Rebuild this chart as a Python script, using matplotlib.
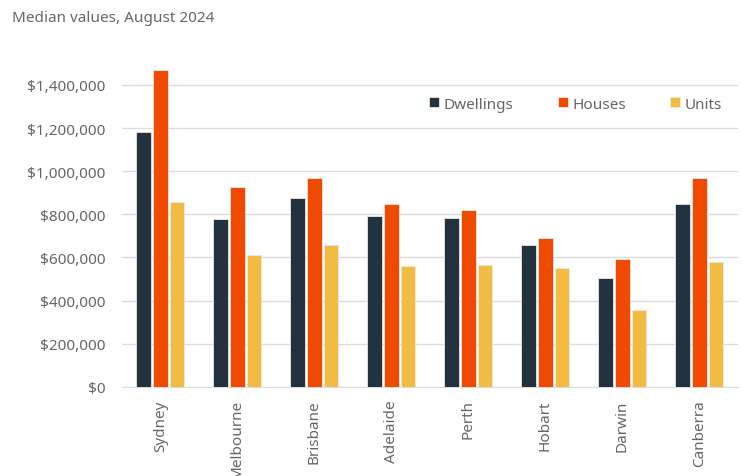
import numpy as np
import matplotlib.pyplot as plt
from matplotlib.ticker import FuncFormatter

plt.rcParams['font.family'] = ['Noto Sans', 'DejaVu Sans']

cities = ["Sydney", "Melbourne", "Brisbane", "Adelaide", "Perth", "Hobart", "Darwin", "Canberra"]
dwellings = [1183000, 778000, 876000, 790000, 784000, 657000, 506000, 847000]
houses = [1470000, 929000, 969000, 847000, 818000, 691000, 594000, 969000]
units = [859000, 609000, 656000, 558000, 565000, 552000, 356000, 581000]

series = [("Dwellings", dwellings, "#22333f"),
          ("Houses", houses, "#f04a00"),
          ("Units", units, "#f2bc42")]

text_col = "#666666"

fig = plt.figure(figsize=(7.43, 4.77), dpi=100)
ax = fig.add_axes([0.164, 0.187, 0.829, 0.678])

x = np.arange(len(cities))
w = 0.19
gap = 0.215
for k, (name, vals, col) in enumerate(series):
    ax.bar(x + (k - 1) * gap, vals, width=w, color=col, label=name,
           edgecolor="#e8e8e8", linewidth=0.6, zorder=3)

ax.set_xlim(-0.5, len(cities) - 0.5)
ax.set_ylim(0, 1500000)
ax.set_yticks(np.arange(0, 1400001, 200000))
ax.yaxis.set_major_formatter(FuncFormatter(lambda v, p: "${:,.0f}".format(v)))
ax.grid(axis="y", color="#dcdcdc", linewidth=1, zorder=0)
for s in ["top", "right", "left"]:
    ax.spines[s].set_visible(False)
ax.spines["bottom"].set_color("#dcdcdc")
ax.tick_params(axis="y", length=0, pad=12, labelsize=11, labelcolor=text_col)
ax.set_xticks(x)
ax.set_xticklabels(cities, rotation=90, va="top", ha="center")
ax.tick_params(axis="x", length=0, pad=9, labelsize=11, labelcolor=text_col)

ax.legend(loc="upper right", bbox_to_anchor=(0.997, 0.94), ncol=3, frameon=False,
          handlelength=0.65, handleheight=0.65, columnspacing=2.9, handletextpad=0.3,
          fontsize=11, labelcolor=text_col)

fig.text(0.016, 0.962, "Median values, August 2024", fontsize=11, color=text_col,
         ha="left", va="center")

fig.savefig("out.png", dpi=100)
